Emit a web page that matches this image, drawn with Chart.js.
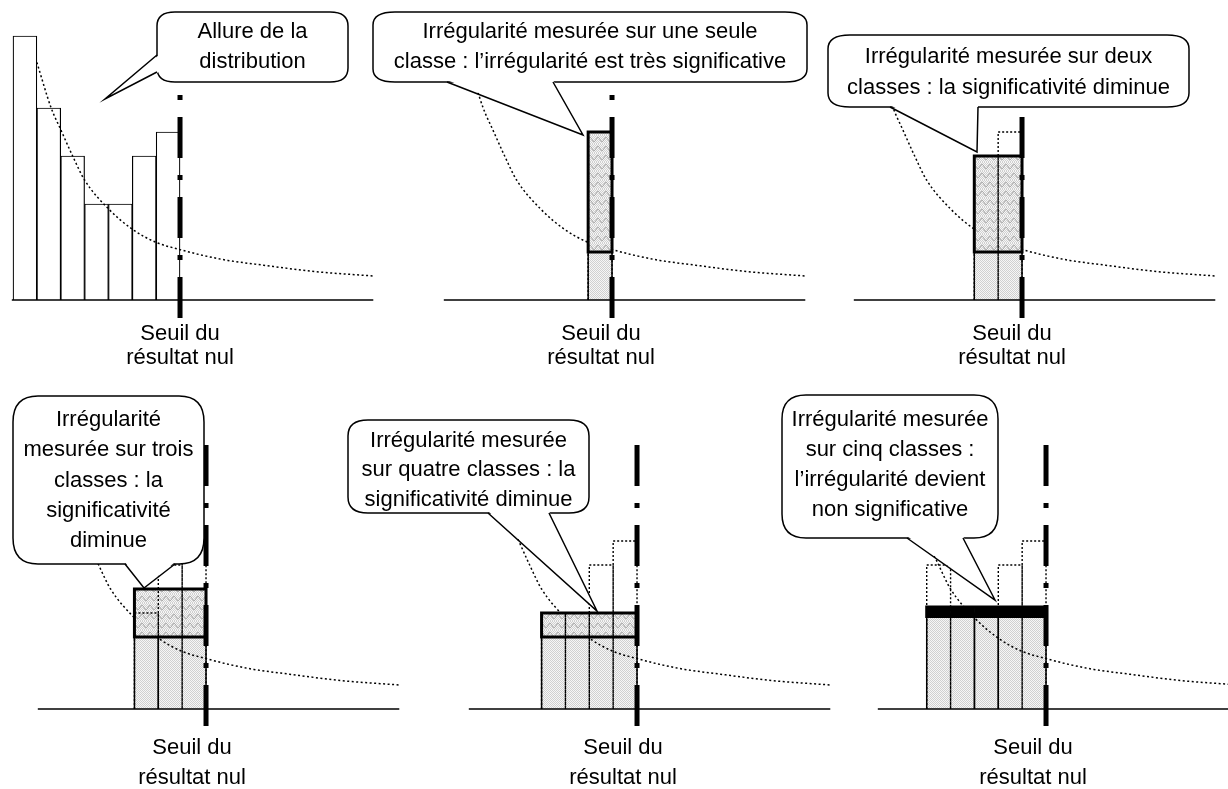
<!DOCTYPE html>
<html>
<head>
<meta charset="utf-8">
<script src="https://cdn.jsdelivr.net/npm/chart.js@4.4.1/dist/chart.umd.min.js"></script>
<style>
  html, body { margin: 0; padding: 0; background: #fff; overflow: hidden; width: 1228px; height: 789px; position: relative; }
  canvas { position: absolute; top: 0; }
</style>
</head>
<body>
<script>
// histogram of the classes (heights in class units) and the expected distribution curve
const classValues = [11, 8, 6, 4, 4, 6, 7];
const curveX = [1, 1.6, 2, 2.5, 3, 4, 5, 6, 7, 8, 9, 10.5, 12.5, 15.1];
const curveY = [9.9, 8.0, 7.1, 6.0, 5.0, 3.8, 2.95, 2.4, 2.1, 1.85, 1.65, 1.45, 1.2, 1.0];

// panels 2..6 : classes measured, expected level, measured level
const windowSizes = [1, 2, 3, 4, 5];
const expectedLevels = [2, 2, 3, 3, 3.85];
const measuredLevels = [7, 6, 5, 4, 4.25];
const solidDividers = [[], [], [5], [], [4, 5]];

const calloutTexts = [
  ['Allure de la', 'distribution'],
  ['Irrégularité mesurée sur une seule', 'classe : l’irrégularité est très significative'],
  ['Irrégularité mesurée sur deux', 'classes : la significativité diminue'],
  ['Irrégularité', 'mesurée sur trois', 'classes : la', 'significativité', 'diminue'],
  ['Irrégularité mesurée', 'sur quatre classes : la', 'significativité diminue'],
  ['Irrégularité mesurée', 'sur cinq classes :', 'l’irrégularité devient', 'non significative']
];
const thresholdLabel = ['Seuil du', 'résultat nul'];

// page layout (pixels); canvases start OX px left of the page so the first panel keeps positive padding
const UX = 23.86, UY = 24, OX = 40, CW = 1340, CH = 789;
const FONT = '22px "Liberation Sans", Arial, sans-serif';
const DOT_FIRST = [5, 17, 41, 17], DASH_FIRST = [41, 17, 5, 17];
const layout = [
  { x0: 13,  base: 300, lineTop: 8.54, dash: DOT_FIRST,  box: [157, 12, 191, 70, 18, 14],  tail: [[157, 55], [157, 72], [105, 99]],   inward: [2, 0],  textY: [32, 62], label: [180, 334, 358] },
  { x0: 445, base: 300, lineTop: 8.54, dash: DOT_FIRST,  box: [373, 12, 434, 70, 22, 13],  tail: [[447, 82], [553, 82], [583, 135]],  inward: [0, -2], textY: [32, 62], label: [601, 334, 358] },
  { x0: 855, base: 300, lineTop: 8.54, dash: DOT_FIRST,  box: [828, 35, 361, 72, 22, 14],  tail: [[890, 107], [978, 107], [977, 152]], inward: [0, -2], textY: [57, 88], label: [1012, 334, 358] },
  { x0: 39,  base: 709, lineTop: 11,   dash: DASH_FIRST, box: [13, 396, 191, 168, 25, 26], tail: [[125, 564], [175, 564], [144, 588]], inward: [0, -2], textY: [420, 450, 481, 511, 541], label: [192, 748, 778] },
  { x0: 470, base: 709, lineTop: 11,   dash: DASH_FIRST, box: [348, 420, 241, 93, 20, 16], tail: [[488, 513], [549, 513], [597, 611]], inward: [0, -2], textY: [441, 470, 500], label: [623, 748, 778] },
  { x0: 879, base: 709, lineTop: 11,   dash: DASH_FIRST, box: [782, 395, 216, 143, 24, 24], tail: [[907, 538], [963, 538], [995, 600]], inward: [0, -2], textY: [420, 450, 480, 510], label: [1033, 748, 778] }
];

function makeStipple(ctx) {
  const c = document.createElement('canvas');
  c.width = 2; c.height = 2;
  const g = c.getContext('2d');
  g.fillStyle = '#f6f6f6'; g.fillRect(0, 0, 2, 2);
  g.fillStyle = '#d0d0d0'; g.fillRect(0, 0, 1, 1); g.fillRect(1, 1, 1, 1);
  return ctx.createPattern(c, 'repeat');
}

function makeWave(ctx) {
  const c = document.createElement('canvas');
  c.width = 8; c.height = 9;
  const g = c.getContext('2d');
  g.fillStyle = makeStipple(g); g.fillRect(0, 0, 8, 9);
  g.strokeStyle = '#a0a0a0'; g.lineWidth = 1;
  g.beginPath();
  for (let x = -1; x <= 9; x += 0.5) {
    const y = 4.5 + 2.2 * Math.sin(x / 8 * 2 * Math.PI);
    if (x === -1) g.moveTo(x, y); else g.lineTo(x, y);
  }
  g.stroke();
  return ctx.createPattern(c, 'repeat');
}

function lineSet(points, style) {
  return Object.assign({
    type: 'line', data: points, pointRadius: 0, pointHoverRadius: 0, fill: false, tension: 0,
    borderColor: '#000', borderWidth: 1.5, clip: false, spanGaps: false
  }, style);
}

function bubblePath(ctx, x, y, w, h, rx, ry) {
  ctx.beginPath();
  ctx.moveTo(x + rx, y);
  ctx.lineTo(x + w - rx, y);
  ctx.quadraticCurveTo(x + w, y, x + w, y + ry);
  ctx.lineTo(x + w, y + h - ry);
  ctx.quadraticCurveTo(x + w, y + h, x + w - rx, y + h);
  ctx.lineTo(x + rx, y + h);
  ctx.quadraticCurveTo(x, y + h, x, y + h - ry);
  ctx.lineTo(x, y + ry);
  ctx.quadraticCurveTo(x, y, x + rx, y);
  ctx.closePath();
}

const calloutPlugin = (i) => ({
  id: 'callout' + i,
  afterDatasetsDraw(chart) {
    const ctx = chart.ctx;
    const L = layout[i];
    const [bx, by, bw, bh, rx, ry] = L.box;
    ctx.save();
    ctx.translate(OX, 0);
    bubblePath(ctx, bx, by, bw, bh, rx, ry);
    ctx.fillStyle = '#fff';
    ctx.fill();
    ctx.lineWidth = 1.5;
    ctx.strokeStyle = '#000';
    ctx.stroke();

    const [b1, b2, tip] = L.tail;
    const [ix, iy] = L.inward;
    ctx.beginPath();
    ctx.moveTo(b1[0] + ix, b1[1] + iy);
    ctx.lineTo(tip[0], tip[1]);
    ctx.lineTo(b2[0] + ix, b2[1] + iy);
    ctx.closePath();
    ctx.fill();
    ctx.beginPath();
    ctx.moveTo(b1[0], b1[1]);
    ctx.lineTo(tip[0], tip[1]);
    ctx.lineTo(b2[0], b2[1]);
    ctx.stroke();

    ctx.fillStyle = '#000';
    ctx.font = FONT;
    ctx.textAlign = 'center';
    ctx.textBaseline = 'middle';
    calloutTexts[i].forEach((t, k) => ctx.fillText(t, bx + bw / 2, L.textY[k]));
    thresholdLabel.forEach((t, k) => ctx.fillText(t, L.label[0], L.label[k + 1]));
    ctx.restore();
  }
});

function buildDatasets(i, ctx) {
  const L = layout[i];
  const n = classValues.length;
  const sets = [];

  // baseline, curve and threshold are common to all panels
  sets.push(lineSet([{ x: -0.05, y: 0 }, { x: 15.1, y: 0 }], { order: 4 }));
  sets.push(lineSet(curveX.map((x, k) => ({ x, y: curveY[k] })), {
    order: 9, borderWidth: 1.5, borderDash: [2, 2.5], cubicInterpolationMode: 'monotone'
  }));
  sets.push(lineSet([{ x: n, y: L.lineTop }, { x: n, y: -0.75 }], {
    order: 1, borderWidth: 5, borderDash: L.dash
  }));

  if (i === 0) {
    sets.push({
      type: 'bar', order: 10, grouped: false,
      data: classValues.map((v, k) => ({ x: k + 0.5, y: v })),
      backgroundColor: '#fff', borderColor: '#000', borderWidth: 1.2,
      barPercentage: 1, categoryPercentage: 1
    });
    return sets;
  }

  const k = windowSizes[i - 1];
  const lo = expectedLevels[i - 1];
  const hi = measuredLevels[i - 1];
  const s = n - k;
  const cls = [];
  for (let j = s; j < n; j++) cls.push(j);

  // expected part (stippled) and irregular part (wavy)
  sets.push({
    type: 'bar', order: 10, grouped: false,
    data: cls.map((j) => ({ x: j + 0.5, y: [0, lo] })),
    backgroundColor: makeStipple(ctx), borderWidth: 0,
    barPercentage: 1, categoryPercentage: 1
  });
  sets.push({
    type: 'bar', order: 8, grouped: false,
    data: cls.map((j) => ({ x: j + 0.5, y: [lo, hi] })),
    backgroundColor: i === 5 ? '#000' : makeWave(ctx), borderWidth: 0,
    barPercentage: 1, categoryPercentage: 1
  });

  // outlines
  sets.push(lineSet([{ x: s, y: 0 }, { x: s, y: lo }, { x: n, y: lo }, { x: n, y: 0 }], { order: 7 }));
  const div = [];
  solidDividers[i - 1].forEach((d) => { div.push({ x: d, y: 0 }, { x: d, y: lo }, { x: d, y: null }); });
  if (div.length) sets.push(lineSet(div, { order: 7 }));

  const orig = [];
  cls.forEach((j) => {
    const h = classValues[j];
    orig.push({ x: j, y: 0 }, { x: j, y: h }, { x: j + 1, y: h }, { x: j + 1, y: 0 }, { x: j + 1, y: null });
  });
  sets.push(lineSet(orig, { order: 6, borderWidth: 1.4, borderDash: [2, 2] }));

  sets.push(lineSet([{ x: s, y: lo }, { x: s, y: hi }, { x: n, y: hi }, { x: n, y: lo }, { x: s, y: lo }], {
    order: 5, borderWidth: 3, borderCapStyle: 'square', borderJoinStyle: 'miter'
  }));
  return sets;
}

function makePanel(i) {
  const L = layout[i];
  const canvas = document.createElement('canvas');
  canvas.width = CW;
  canvas.height = CH;
  canvas.style.left = (-OX) + 'px';
  document.body.appendChild(canvas);
  const ctx = canvas.getContext('2d');
  const xMin = -1, xMax = 16, yMin = -1, yMax = 12;

  new Chart(canvas, {
    type: 'bar',
    data: { datasets: buildDatasets(i, ctx) },
    options: {
      responsive: false,
      animation: false,
      events: [],
      layout: {
        padding: {
          left: OX + L.x0 + xMin * UX,
          right: CW - (OX + L.x0 + xMax * UX),
          top: L.base - yMax * UY,
          bottom: CH - (L.base - yMin * UY)
        }
      },
      plugins: { legend: { display: false }, tooltip: { enabled: false } },
      scales: {
        x: { type: 'linear', min: xMin, max: xMax, offset: false, display: false, ticks: { stepSize: 1 } },
        y: { type: 'linear', min: yMin, max: yMax, display: false, ticks: { stepSize: 1 } }
      }
    },
    plugins: [calloutPlugin(i)]
  });
}

for (let i = 0; i < layout.length; i++) makePanel(i);
</script>
</body>
</html>
